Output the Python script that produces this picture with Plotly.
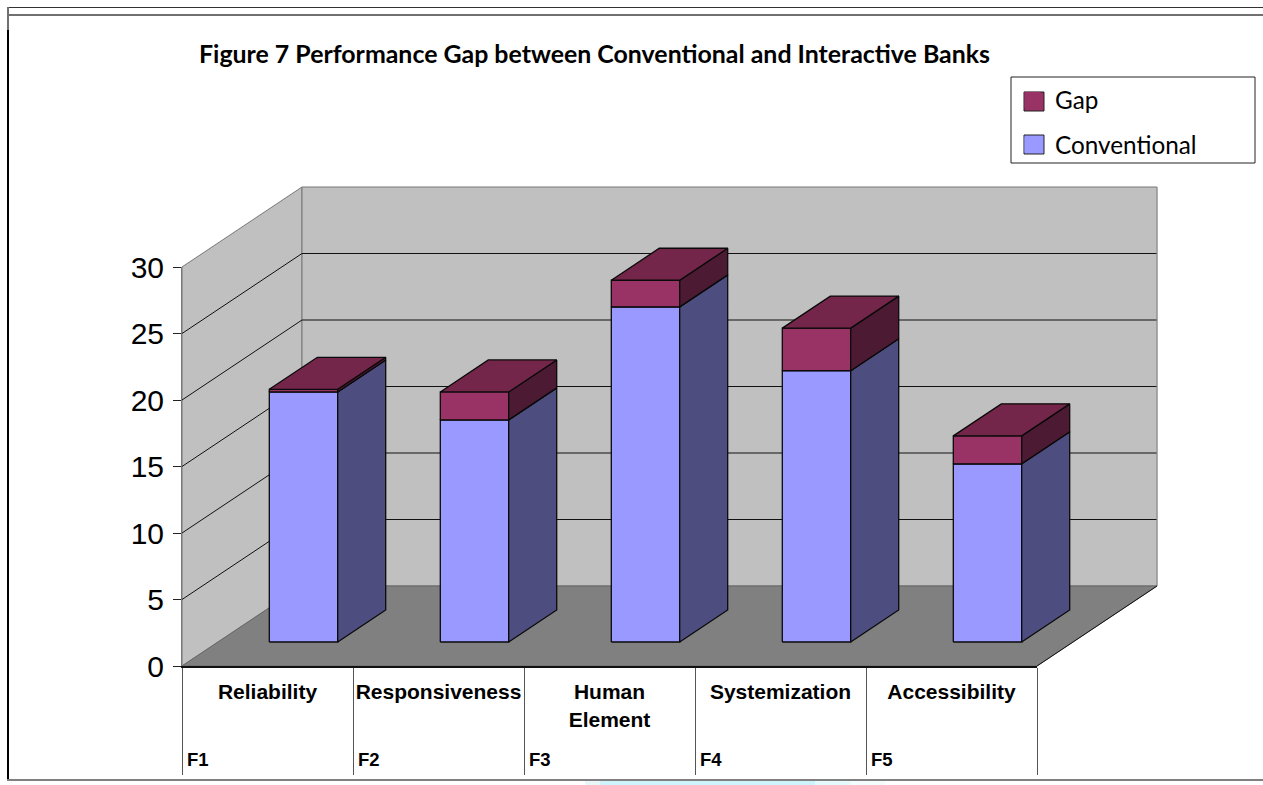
import plotly.graph_objects as go

# Chart data
factors = ["F1", "F2", "F3", "F4", "F5"]
categories = ["Reliability", "Responsiveness", "Human<br>Element", "Systemization", "Accessibility"]
conventional = [18.8, 16.7, 25.2, 20.4, 13.4]
gap = [0.2, 2.1, 2.0, 3.2, 2.1]
value_ticks = [0, 5, 10, 15, 20, 25, 30]

# Page size and the front edge of the chart box, in pixels
W, H = 1263, 785
BOX_LEFT, BOX_RIGHT, BOX_BOTTOM, BOX_TOP = 182, 1037, 666, 267

N = len(categories)
V_MAX = value_ticks[-1]
PX_PER_CAT = (BOX_RIGHT - BOX_LEFT) / N
PX_PER_VALUE = (BOX_BOTTOM - BOX_TOP) / V_MAX

# Oblique projection of the 3-D box: one unit of depth moves a point this far
# along the category axis and the value axis.
DEPTH_X = 120 / PX_PER_CAT
DEPTH_Y = 80 / PX_PER_VALUE
BAR_LEFT, BAR_RIGHT = 0.3, 0.7
BAR_FRONT, BAR_BACK = 0.3, 0.7

WALL = "#C0C0C0"
FLOOR = "#808080"
EDGE = "#0A0A0A"
CONV_FRONT, CONV_SIDE = "#9999FF", "#4D4D80"
GAP_FRONT, GAP_SIDE, GAP_TOP = "#993366", "#4D1A33", "#732649"


def project(cat, depth, value):
    return cat + depth * DEPTH_X, value + depth * DEPTH_Y


def face(points, fill, line=EDGE, width=1.3):
    pts = [project(*p) for p in points]
    pts.append(pts[0])
    return go.Scatter(
        x=[p[0] for p in pts], y=[p[1] for p in pts],
        mode="lines", fill="toself", fillcolor=fill,
        line=dict(color=line, width=width),
        hoverinfo="skip", showlegend=False,
    )


def segments(pairs, color, width=1):
    xs, ys = [], []
    for a, b in pairs:
        pa, pb = project(*a), project(*b)
        xs += [pa[0], pb[0], None]
        ys += [pa[1], pb[1], None]
    return go.Scatter(
        x=xs, y=ys, mode="lines", line=dict(color=color, width=width),
        hoverinfo="skip", showlegend=False,
    )


def box(cat, low, high, front, side, top):
    x0, x1 = cat + BAR_LEFT, cat + BAR_RIGHT
    z0, z1 = BAR_FRONT, BAR_BACK
    return [
        face([(x0, z0, low), (x1, z0, low), (x1, z0, high), (x0, z0, high)], front),
        face([(x1, z0, low), (x1, z1, low), (x1, z1, high), (x1, z0, high)], side),
        face([(x0, z0, high), (x1, z0, high), (x1, z1, high), (x0, z1, high)], top),
    ]


fig = go.Figure()

# Walls and floor
fig.add_trace(face([(0, 0, 0), (0, 1, 0), (0, 1, V_MAX), (0, 0, V_MAX)], WALL, "#777777", 1))
fig.add_trace(face([(0, 1, 0), (N, 1, 0), (N, 1, V_MAX), (0, 1, V_MAX)], WALL, "#777777", 1))
fig.add_trace(segments(
    [((0, 0, v), (0, 1, v)) for v in value_ticks[1:-1]]
    + [((0, 1, v), (N, 1, v)) for v in value_ticks[1:-1]],
    "#111111",
))
fig.add_trace(segments([((N, 1, 0), (N, 1, V_MAX))], "#A0A0A0"))
fig.add_trace(face([(0, 0, 0), (N, 0, 0), (N, 1, 0), (0, 1, 0)], FLOOR, "#666666", 1))
fig.add_trace(segments([((N, 0, 0), (N, 1, 0))], "#111111"))

# Stacked columns, drawn left to right
for i in range(N):
    for t in box(i, 0, conventional[i], CONV_FRONT, CONV_SIDE, GAP_TOP):
        fig.add_trace(t)
    for t in box(i, conventional[i], conventional[i] + gap[i], GAP_FRONT, GAP_SIDE, GAP_TOP):
        fig.add_trace(t)

# Legend keys live on the visible axis pair, which also keeps that pair drawn
fig.add_trace(go.Scatter(x=[None], y=[None], xaxis="x2", yaxis="y2", mode="markers",
                         name="Gap", legendgroup="gap",
                         marker=dict(symbol="square", size=16, color=GAP_FRONT)))
fig.add_trace(go.Scatter(x=[None], y=[None], xaxis="x2", yaxis="y2", mode="markers",
                         name="Conventional", legendgroup="conv",
                         marker=dict(symbol="square", size=16, color=CONV_FRONT)))

# Factor codes sit at the foot of each category cell
annotations = [
    dict(x=i, y=1 - 759 / H, xref="x2", yref="paper", text=f"<b>{code}</b>", showarrow=False,
         xanchor="left", yanchor="middle", xshift=3,
         font=dict(family="Liberation Sans", size=18.5, color="black"))
    for i, code in enumerate(factors)
]


def page_rect(x0, x1, y0, y1, fill=None, line=None, width=1):
    return dict(type="rect", xref="paper", yref="paper",
                x0=x0 / W, x1=x1 / W, y0=1 - y0 / H, y1=1 - y1 / H,
                fillcolor=fill or "rgba(0,0,0,0)", layer="below",
                line=dict(color=line or "rgba(0,0,0,0)", width=width if line else 0))


shapes = [
    # Page rules around the chart
    page_rect(7, W, 7, 8, fill="#333333"),
    page_rect(7, W, 14, 16, fill="#707070"),
    page_rect(7, 9, 7, 30, fill="#707070"),
    page_rect(7, 9, 30, 781, fill="#000000"),
    page_rect(7, W, 779, 781, fill="#808080"),
    # Pale band along the bottom edge of the page
    page_rect(585, 600, 781, H, fill="#EAF7F9"),
    page_rect(600, 815, 781, H, fill="#CDF4FB"),
    page_rect(815, 850, 781, H, fill="#E4FAFD"),
    page_rect(850, 885, 781, H, fill="#F4FDFE"),
    # Legend frame and key outlines
    page_rect(1011, 1255, 77, 163, fill="white", line="#222222"),
    page_rect(1024, 1044, 92, 111, fill=GAP_FRONT, line="#222222"),
    page_rect(1024, 1044, 135, 154, fill=CONV_FRONT, line="#222222"),
]

fig.update_layout(
    width=W, height=H,
    margin=dict(l=0, r=0, t=0, b=0, autoexpand=False),
    paper_bgcolor="white", plot_bgcolor="rgba(0,0,0,0)",
    title=dict(
        text="<b>Figure 7 Performance Gap between Conventional and Interactive Banks</b>",
        x=199 / W, xref="paper", xanchor="left", y=1 - 54 / H, yref="paper", yanchor="middle",
        font=dict(family="Lato", size=24.9, color="black"),
    ),
    # Full-page axes carrying the projected faces, sharing the chart's units
    xaxis=dict(domain=[0, 1], visible=False, fixedrange=True,
               range=[-BOX_LEFT / PX_PER_CAT, (W - BOX_LEFT) / PX_PER_CAT]),
    yaxis=dict(domain=[0, 1], visible=False, fixedrange=True,
               range=[(BOX_BOTTOM - H) / PX_PER_VALUE, BOX_BOTTOM / PX_PER_VALUE]),
    # Visible category and value axes along the front edge of the box
    xaxis2=dict(
        domain=[BOX_LEFT / W, BOX_RIGHT / W], range=[0, N], anchor="y2",
        tickmode="array", tickvals=[i + 0.5 for i in range(N)], ticktext=categories,
        ticks="", showgrid=False, zeroline=False,
        showline=True, linecolor="#111111", linewidth=2,
        tickfont=dict(family="Liberation Sans", size=21, color="black", weight="bold"),
        ticklabelstandoff=6,
        minor=dict(tickmode="array", tickvals=list(range(N + 1)), ticks="outside",
                   ticklen=107, tickwidth=1, tickcolor="#555555", showgrid=False),
    ),
    yaxis2=dict(
        domain=[1 - BOX_BOTTOM / H, 1 - BOX_TOP / H], range=[0, V_MAX], anchor="x2",
        tickmode="array", tickvals=value_ticks,
        ticks="outside", ticklen=8, tickcolor="#222222", showgrid=False, zeroline=False,
        showline=True, linecolor="#777777", linewidth=1,
        tickfont=dict(family="Liberation Sans", size=30, color="black"),
        ticklabelstandoff=3,
    ),
    legend=dict(
        x=1010 / W, y=1 - 77.5 / H, xanchor="left", yanchor="top",
        bgcolor="rgba(0,0,0,0)", borderwidth=0,
        font=dict(family="Lato", size=24.3, color="black"),
        itemwidth=35, tracegroupgap=10,
    ),
    annotations=annotations,
    shapes=shapes,
    showlegend=True,
)

fig.write_html("out.html")
